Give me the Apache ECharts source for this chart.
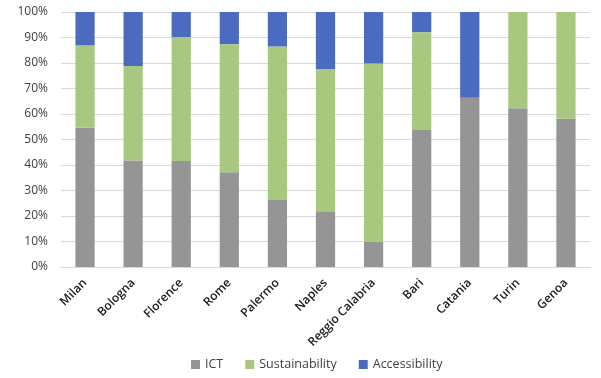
<!DOCTYPE html>
<html><head><meta charset="utf-8">
<script src="https://cdn.jsdelivr.net/npm/echarts@6/dist/echarts.min.js"></script>
<style>html,body{margin:0;padding:0;background:#fff}#c{width:601px;height:378px}</style>
</head><body><div id="c"></div>
<script>
var categories = ['Milan','Bologna','Florence','Rome','Palermo','Naples','Reggio Calabria','Bari','Catania','Turin','Genoa'];
var ict = [54.6, 41.8, 41.6, 37.2, 26.3, 21.9, 9.8, 53.7, 66.4, 62.3, 58.1];
var sustainability = [32.3, 37.0, 48.6, 50.2, 60.2, 55.7, 70.0, 38.4, 0, 37.7, 41.9];
var accessibility = [13.1, 21.2, 9.8, 12.6, 13.5, 22.4, 20.2, 7.9, 33.6, 0, 0];
var yTicks = [0,10,20,30,40,50,60,70,80,90,100];

var chart = echarts.init(document.getElementById('c'));
var font = 'Open Sans, Liberation Sans, sans-serif';
function s(name, data, color){
  return {name:name, type:'bar', stack:'t', data:data, barWidth:'40%', itemStyle:{color:color}, animation:false};
}
chart.setOption({
  animation:false,
  grid:{left:61, right:11, top:12, bottom:111},
  legend:{bottom:2, left:186, itemWidth:9, itemHeight:9, itemGap:22, icon:'rect',
    textStyle:{fontFamily:font, fontSize:12.5, color:'#404040'},
    data:['ICT','Sustainability','Accessibility']},
  xAxis:{type:'category', data:categories,
    axisLine:{lineStyle:{color:'#d9d9d9'}}, axisTick:{show:false},
    axisLabel:{rotate:45, interval:0, fontFamily:font, fontSize:12, fontWeight:600, color:'#1a1a1a', margin:14}},
  yAxis:{type:'value', min:yTicks[0], max:yTicks[yTicks.length-1], interval:10,
    axisLine:{show:false}, axisTick:{show:false},
    splitLine:{lineStyle:{color:'#d9d9d9'}},
    axisLabel:{formatter:'{value}%', fontFamily:font, fontSize:12, color:'#404040', margin:13}},
  series:[s('ICT', ict, '#959595'), s('Sustainability', sustainability, '#a8c880'), s('Accessibility', accessibility, '#4a6bbf')]
});
</script></body></html>
